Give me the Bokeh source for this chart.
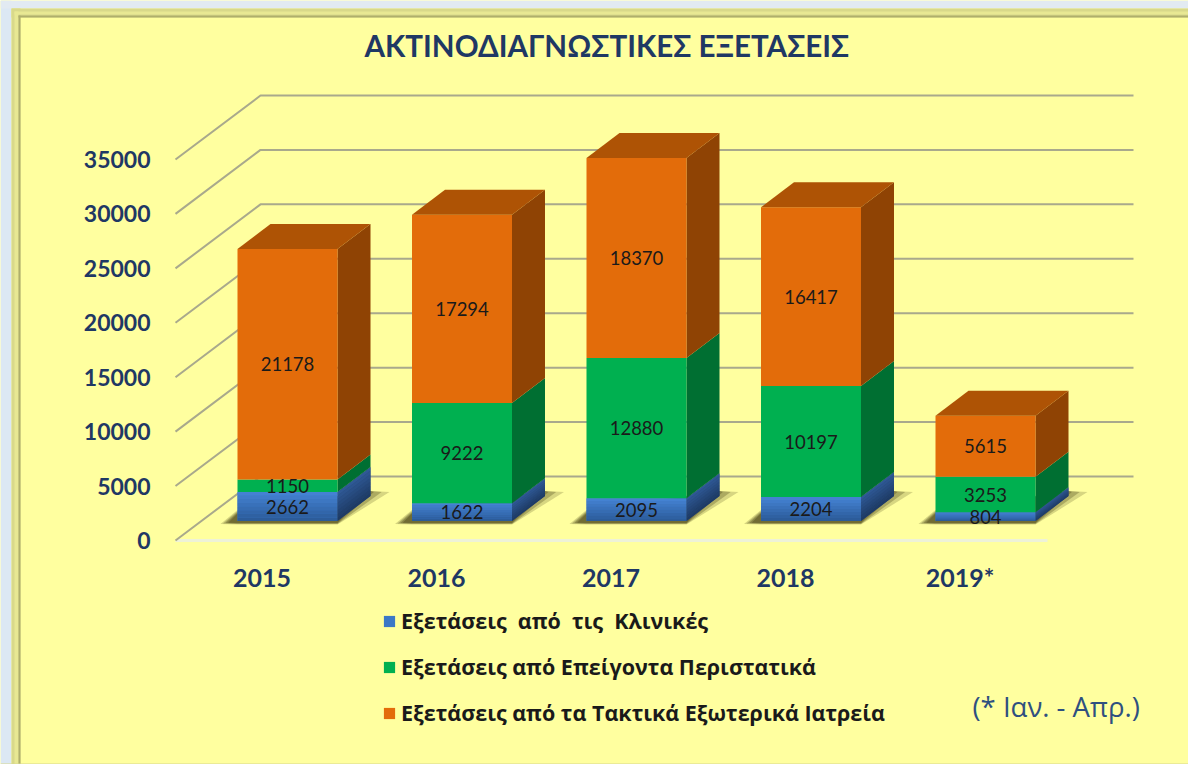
from bokeh.plotting import figure
from bokeh.models import FixedTicker, Legend, LegendItem, Label
from bokeh.embed import file_html
from bokeh.resources import INLINE
from bokeh.core.properties import value

title = "ΑΚΤΙΝΟΔΙΑΓΝΩΣΤΙΚΕΣ ΕΞΕΤΑΣΕΙΣ"
years = ["2015", "2016", "2017", "2018", "2019*"]
clinics = [2662, 1622, 2095, 2204, 804]
emergency = [1150, 9222, 12880, 10197, 3253]
outpatient = [21178, 17294, 18370, 16417, 5615]
y_ticks = [0, 5000, 10000, 15000, 20000, 25000, 30000, 35000]
legend_labels = ["Εξετάσεις  από  τις  Κλινικές",
                 "Εξετάσεις από Επείγοντα Περιστατικά",
                 "Εξετάσεις από τα Τακτικά Εξωτερικά Ιατρεία"]
note = "(* Ιαν. - Απρ.)"

BG = "#FFFF9F"
NAVY = "#1F3864"
FONT = "Lato"
WIDE = "Open Sans"

W = 1188; H = 764
PX = 174.5          # px per category
PY = 0.010886       # px per unit
ORIGIN_X, ORIGIN_Y = 261.5, 540
fx = lambda px: px / PX
fy = lambda px: px / PY
X = lambda px: (px - ORIGIN_X) / PX      # page px -> data
Y = lambda py: (ORIGIN_Y - py) / PY

p = figure(width=W, height=H, output_backend="svg", toolbar_location=None,
           x_range=(X(0), X(W)), y_range=(Y(H), Y(0)),
           min_border_left=0, min_border_right=0, min_border_top=0, min_border_bottom=0,
           background_fill_color=BG, border_fill_color=BG, outline_line_color=None)
p.grid.visible = False

# slide frame
for l, r, t, b, c in [
    (0, 11, 0, H, "#DCE8F4"), (0, W, 0, 8, "#E2EAF2"),
    (11, 20, 8, H, "#D9D98A"), (11, W, 8, 17, "#D9D98A"),
    (14, 18, 11, H, "#E8E893"), (14, W, 11, 14, "#E8E893"),
    (18, 20, 15, H, "#AFAF6C"), (18, W, 15, 17, "#AFAF6C"),
    (0, W, H - 1, H, "#D8D890"),
]:
    p.quad(left=X(l), right=X(r), top=Y(t), bottom=Y(b), fill_color=c, line_color=None)

for ax in (p.xaxis[0], p.yaxis[0]):
    ax.axis_line_color = None
    ax.major_tick_line_color = None
    ax.minor_tick_line_color = None
    ax.major_tick_out = 0
    ax.major_tick_in = 0
    ax.major_label_text_font = FONT
    ax.major_label_text_font_style = "bold"
    ax.major_label_text_color = NAVY
p.xaxis[0].fixed_location = 0
p.xaxis[0].ticker = FixedTicker(ticks=list(range(len(years))))
p.xaxis[0].major_label_overrides = {i: y for i, y in enumerate(years)}
p.xaxis[0].major_label_text_font_size = "25px"
p.xaxis[0].major_label_standoff = 21
p.yaxis[0].fixed_location = X(175)
p.yaxis[0].ticker = FixedTicker(ticks=y_ticks)
p.yaxis[0].major_label_text_font_size = "23px"
p.yaxis[0].major_label_standoff = 25

p.add_layout(Label(x=X(364), y=Y(45), text=title, text_font=FONT, text_font_style="bold",
                   text_font_size="29.6px", text_color=NAVY, text_baseline="middle"))

# floor and oblique gridlines
x0 = X(175)
xb = x0 + fx(85)
yb = fy(64)
p.line([x0, x0 + fx(872)], [0, 0], line_color="#EEF2D8", line_width=3)
p.multi_line([[x0, xb, X(1133)] for _ in y_ticks],
             [[t, t + yb, t + yb] for t in y_ticks],
             line_color="#A9A98C", line_width=2)

# bar geometry
BW = fx(100); BX = fx(-24.5); FLOOR = fy(19.5); DX = fx(33); DY = fy(25)
n = len(years)
lefts = [i + BX for i in range(n)]

# soft shadows on the floor
for g, alpha in ((1.0, 0.22), (0.85, 0.3), (0.7, 0.35), (0.55, 0.4)):
    xs, ys = [], []
    for l in lefts:
        xs.append([l - fx(17 * g), l, l + BW, l + BW + fx(52 * g), l + BW + fx(33), l])
        ys.append([FLOOR - fy(3 * g), FLOOR - fy(3.5 * g), FLOOR - fy(3.5 * g),
                   FLOOR + fy(29), FLOOR + fy(30), FLOOR + fy(8 * g + 3)])
    p.patches(xs, ys, fill_color="#4A4618", fill_alpha=alpha, line_color=None)

# stacked bars
series = [clinics, emergency, outpatient]
face = ["#3B78C6", "#00B050", "#E36C0A"]
side = ["#27497F", "#006F32", "#8F4304"]
top_c = "#AE5305"
bottoms = [FLOOR] * n
front = []
for s, vals in enumerate(series):
    tops = [b + v for b, v in zip(bottoms, vals)]
    p.patches([[l + BW, l + BW + DX, l + BW + DX, l + BW] for l in lefts],
              [[b, b + DY, t + DY, t] for b, t in zip(bottoms, tops)],
              fill_color=side[s], line_color=None)
    front.append(p.quad(left=lefts, right=[l + BW for l in lefts], bottom=bottoms, top=tops,
                        fill_color=face[s], line_color=None))
    if s == 0:  # blue segment shades downward
        K = 8
        for k in range(K):
            f = k / (K - 1)
            col = "#%02X%02X%02X" % (int(0x44 - 0x18 * f), int(0x82 - 0x26 * f), int(0xD2 - 0x38 * f))
            sid = "#%02X%02X%02X" % (int(0x2F - 0x11 * f), int(0x59 - 0x1E * f), int(0x95 - 0x30 * f))
            bb = [t - (t - b) * (k + 1) / K for b, t in zip(bottoms, tops)]
            tt = [t - (t - b) * k / K for b, t in zip(bottoms, tops)]
            p.quad(left=lefts, right=[l + BW for l in lefts], bottom=bb, top=tt,
                   fill_color=col, line_color=None)
            p.patches([[l + BW, l + BW + DX, l + BW + DX, l + BW] for l in lefts],
                      [[b, b + DY, t + DY, t] for b, t in zip(bb, tt)],
                      fill_color=sid, line_color=None)
    bottoms = tops
p.patches([[l, l + DX, l + BW + DX, l + BW] for l in lefts],
          [[t, t + DY, t + DY, t] for t in bottoms],
          fill_color=top_c, line_color=None)

# value labels
bottoms = [FLOOR] * n
for vals in series:
    tops = [b + v for b, v in zip(bottoms, vals)]
    p.text(x=[l + BW / 2 for l in lefts], y=[(b + t) / 2 for b, t in zip(bottoms, tops)],
           text=[str(v) for v in vals], text_font=value(FONT), text_font_size="18.5px",
           text_color="#1A1A1A", text_align="center", text_baseline="middle")
    bottoms = tops

# legend
legend = Legend(items=[LegendItem(label=value(t), renderers=[r]) for t, r in zip(legend_labels, front)],
                location=(382, 37), orientation="vertical",
                background_fill_alpha=0, border_line_color=None, padding=0, margin=0,
                glyph_width=14, glyph_height=14, label_standoff=5, spacing=17,
                label_text_font=WIDE, label_text_font_style="bold", label_text_font_size="21.5px",
                label_text_color="#1A1A1A", label_height=24)
p.add_layout(legend, "center")

# footnote
p.add_layout(Label(x=X(972), y=Y(706), text=note, text_font=WIDE, text_font_size="27.5px",
                   text_color="#2F5080", text_baseline="middle"))

open("out.html", "w").write(file_html(p, INLINE))
